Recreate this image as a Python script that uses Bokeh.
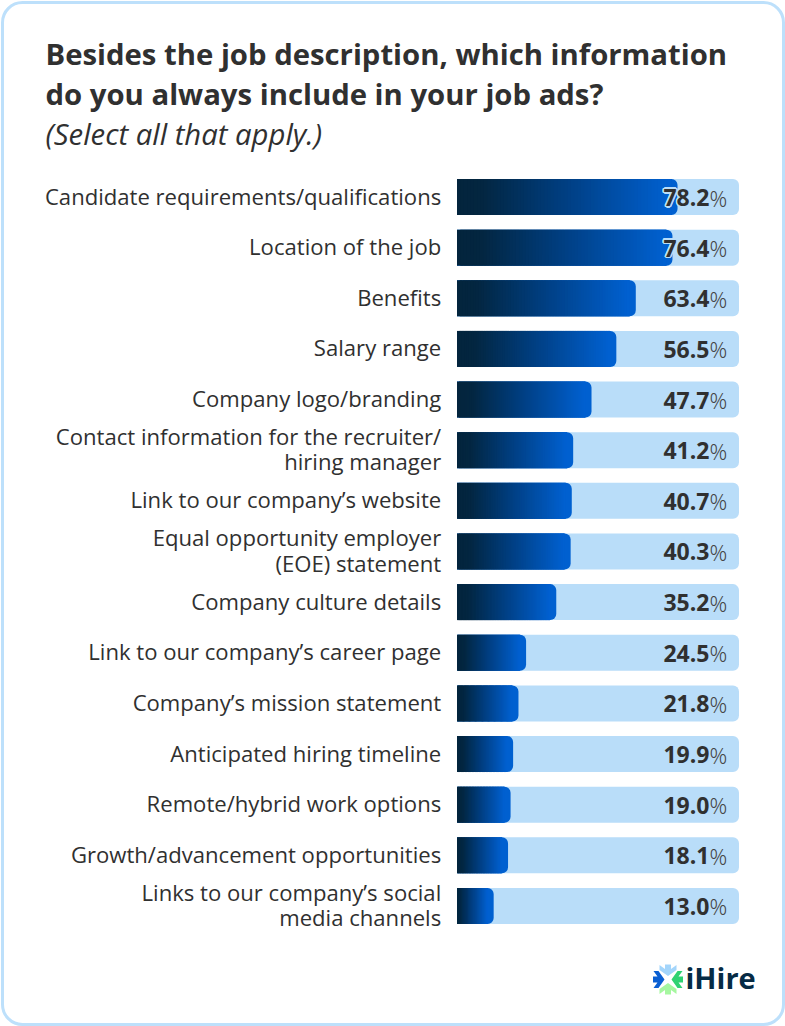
from bokeh.plotting import figure
from bokeh.embed import file_html
from bokeh.resources import INLINE
from bokeh.core.properties import value
from bokeh.models import Range1d, BoxAnnotation, Label
import math

categories = ["Candidate requirements/qualifications", "Location of the job", "Benefits", "Salary range",
              "Company logo/branding", "Contact information for the recruiter/\nhiring manager",
              "Link to our company’s website", "Equal opportunity employer\n(EOE) statement",
              "Company culture details", "Link to our company’s career page", "Company’s mission statement",
              "Anticipated hiring timeline", "Remote/hybrid work options", "Growth/advancement opportunities",
              "Links to our company’s social\nmedia channels"]
values = [78.2, 76.4, 63.4, 56.5, 47.7, 41.2, 40.7, 40.3, 35.2, 24.5, 21.8, 19.9, 19.0, 18.1, 13.0]

W, H = 785, 1026
PX0, PXK = 456.5, 2.82      # pixel of 0 %, pixels per %
ROW0, ROWSTEP = 196.5, 50.64  # pixel of first row, pixels per row
BAR_H = 36 / ROWSTEP
FONT = value("Open Sans")
DARK = "#303030"
TRACK = "#b9ddf9"

p = figure(width=W, height=H, output_backend="svg", toolbar_location=None, min_border=0,
           x_range=Range1d((0 - PX0) / PXK, (W - PX0) / PXK),
           y_range=Range1d((H - ROW0) / ROWSTEP, (0 - ROW0) / ROWSTEP),
           outline_line_color=None, background_fill_color="white")
p.axis.visible = False
p.grid.visible = False

p.add_layout(BoxAnnotation(left=2, right=W - 2, top=2, bottom=H - 2, left_units="screen", right_units="screen",
                           top_units="screen", bottom_units="screen", fill_color="white", fill_alpha=1,
                           line_color="#bde0fb", line_width=3, line_alpha=1, border_radius=20, level="underlay"))

rows = list(range(len(values)))
top = [r - BAR_H / 2 for r in rows]
bot = [r + BAR_H / 2 for r in rows]
p.quad(left=[0] * len(rows), right=[100] * len(rows), top=top, bottom=bot, fill_color=TRACK, line_color=None,
       border_radius=(0, 6, 6, 0))

def mix(a, b, t):
    return tuple(round(a[i] + (b[i] - a[i]) * t) for i in range(3))

STOPS = [(0.0, (3, 36, 60)), (0.12, (3, 38, 64)), (0.5, (0, 62, 128)), (1.0, (0, 96, 208))]
def grad(t):
    for (t0, c0), (t1, c1) in zip(STOPS, STOPS[1:]):
        if t <= t1:
            return "#%02x%02x%02x" % mix(c0, c1, (t - t0) / (t1 - t0))
    return "#0060d0"

p.quad(left=[0] * len(rows), right=values, top=top, bottom=bot, fill_color=grad(1), line_color=None,
       border_radius=(0, 6, 6, 0))
N = 64
gl, gr, gt, gb, gc = [], [], [], [], []
for r, v in zip(rows, values):
    end = v - 2.2
    for k in range(N):
        gl.append(end * k / N)
        gr.append(end * min(k + 2, N) / N)
        gt.append(top[r])
        gb.append(bot[r])
        gc.append(grad((k + 1) / N))
p.quad(left=gl, right=gr, top=gt, bottom=gb, fill_color=gc, line_color=None)

p.text(x=[-5.6] * len(rows), y=rows, text=categories, text_font=FONT, text_font_size="22.1px", text_color=DARK,
       text_align="right", text_baseline="middle", text_line_height=0.85, y_offset=-1.5)

VAL_X = 89.5
vals = ["%.1f" % v for v in values]
over = [r for r, v in zip(rows, values) if v > VAL_X - 18]
for a in range(0, 360, 30):
    p.text(x=[VAL_X] * len(over), y=over, text=[vals[r] for r in over], text_font=FONT, text_font_style="bold",
           text_font_size="23px", text_color=TRACK, text_align="right", text_baseline="middle",
           x_offset=1.6 * math.cos(math.radians(a)), y_offset=0.5 + 1.6 * math.sin(math.radians(a)))
p.text(x=[VAL_X] * len(rows), y=rows, text=vals, text_font=FONT, text_font_style="bold", text_font_size="23px",
       text_color=DARK, text_align="right", text_baseline="middle", y_offset=0.5)
p.text(x=[VAL_X] * len(rows), y=rows, text=["%"] * len(rows), text_font=value("Open Sans Light"),
       text_font_size="22px", text_color="#444444", text_align="left", text_baseline="middle", y_offset=0.5)

for t, y, st in [("Besides the job description, which information", 53, "bold"),
                 ("do you always include in your job ads?", 93, "bold"),
                 ("(Select all that apply.)", 133, "italic")]:
    p.add_layout(Label(x=45, y=H - y, x_units="screen", y_units="screen", text=t, text_font="Open Sans",
                       text_font_style=st, text_font_size="29.3px", text_color=DARK, text_baseline="middle"))

# logo: four snowflake arms around a centre, in page pixels
LX, LY = 667.5, 979.0
ARM = [(0, 3.5), (8.5, 9.5), (8.5, 14.5), (3, 10.5), (3, 15), (-3, 15), (-3, 10.5), (-8.5, 14.5), (-8.5, 9.5)]
logo = [((0, -1), "#a3d5fb"), ((0, 1), "#a6f7a0"), ((-1, 0), "#0a5fd2"), ((1, 0), "#2fd272")]
xs, ys, cs = [], [], []
for (dx, dy), c in logo:
    xs.append([(LX + r * dx + w * dy - PX0) / PXK for w, r in ARM])
    ys.append([(LY + r * dy + w * dx - ROW0) / ROWSTEP for w, r in ARM])
    cs.append(c)
p.patches(xs, ys, fill_color=cs, line_color=None)

p.add_layout(Label(x=685, y=H - 977, x_units="screen", y_units="screen", text="iHire", text_font="Open Sans",
                   text_font_style="bold", text_font_size="29px", text_color="#062b45", text_baseline="middle"))

html = file_html(p, INLINE)
open("out.html", "w").write(html)
